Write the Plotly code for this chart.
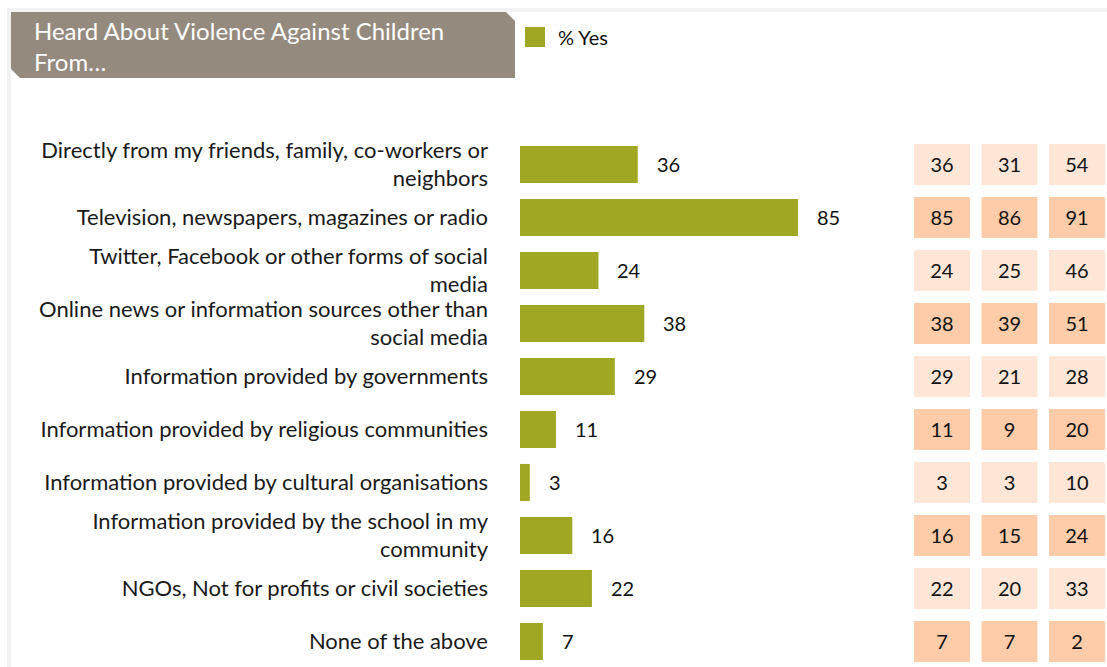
import plotly.graph_objects as go

categories = [
    "Directly from my friends, family, co-workers or<br>neighbors",
    "Television, newspapers, magazines or radio",
    "Twitter, Facebook or other forms of social<br>media",
    "Online news or information sources other than<br>social media",
    "Information provided by governments",
    "Information provided by religious communities",
    "Information provided by cultural organisations",
    "Information provided by the school in my<br>community",
    "NGOs, Not for profits or civil societies",
    "None of the above",
]
yes_pct = [36, 85, 24, 38, 29, 11, 3, 16, 22, 7]
table_col1 = [36, 85, 24, 38, 29, 11, 3, 16, 22, 7]
table_col2 = [31, 86, 25, 39, 21, 9, 3, 15, 20, 7]
table_col3 = [54, 91, 46, 51, 28, 20, 10, 24, 33, 2]
table_cols = [table_col1, table_col2, table_col3]
title_text = "Heard About Violence Against Children<br>From\u2026"
legend_text = "% Yes"

FONT = "Lato"
GREEN = "#A0A823"
LIGHT = "#FFE6D6"
DARK = "#FFCCA9"

W, H = 1107, 667
ML, MR, MT, MB = 520, 0, 110, 5
PW, PH = W - ML - MR, H - MT - MB

fig = go.Figure()
fig.add_trace(go.Bar(
    x=yes_pct, y=categories, orientation="h", marker_color=GREEN,
    marker_line_width=0, width=0.70, xaxis="x", yaxis="y",
    hoverinfo="skip", showlegend=False,
))

row_colors = [LIGHT if i % 2 == 0 else DARK for i in range(len(categories))]
for c, col in enumerate(table_cols):
    fig.add_trace(go.Bar(
        x=[0.83] * len(col), base=[c - 0.415] * len(col), y=categories,
        orientation="h", marker_color=row_colors, marker_line_width=0,
        width=0.77, xaxis="x2", yaxis="y",
        text=[str(v) for v in col], textposition="inside",
        insidetextanchor="middle", textangle=0,
        textfont=dict(family=FONT, size=20, color="#111111"),
        hoverinfo="skip", showlegend=False,
    ))

for cat, v in zip(categories, yes_pct):
    fig.add_annotation(
        x=v, y=cat, xref="x", yref="y", text=str(v), showarrow=False,
        xanchor="left", xshift=17, font=dict(family=FONT, size=20, color="#111111"),
    )

def px(x):
    return (x - ML) / PW
def py(y):
    return (H - MB - y) / PH

shapes = []
# outer frame bands
shapes.append(dict(type="rect", xref="paper", yref="paper", x0=px(7), x1=px(W), y0=py(12), y1=py(8),
                   fillcolor="#F2F2F2", line_width=0, layer="below"))
shapes.append(dict(type="rect", xref="paper", yref="paper", x0=px(7), x1=px(11), y0=py(H), y1=py(8),
                   fillcolor="#F2F2F2", line_width=0, layer="below"))
# title box with cut corners
x0, x1, y0, y1 = 11, 515, 12, 78
path = (f"M {px(x0)} {py(y0)} L {px(x1-9)} {py(y0)} L {px(x1)} {py(y0+9)} "
        f"L {px(x1)} {py(y1)} L {px(x0+9)} {py(y1)} L {px(x0)} {py(y1-9)} Z")
shapes.append(dict(type="path", xref="paper", yref="paper", path=path,
                   fillcolor="#958A7E", line_width=0, layer="below"))
# legend swatch
shapes.append(dict(type="rect", xref="paper", yref="paper", x0=px(525), x1=px(545), y0=py(47), y1=py(27),
                   fillcolor=GREEN, line_width=0))

fig.add_annotation(x=px(32), y=py(14), xref="paper", yref="paper", text=title_text,
                   showarrow=False, xanchor="left", yanchor="top", align="left",
                   font=dict(family=FONT, size=24, color="white"))
fig.add_annotation(x=px(556), y=py(37), xref="paper", yref="paper", text=legend_text,
                   showarrow=False, xanchor="left", yanchor="middle",
                   font=dict(family=FONT, size=20, color="#111111"))

fig.update_layout(
    width=W, height=H, autosize=False,
    margin=dict(l=ML, r=MR, t=MT, b=MB),
    paper_bgcolor="white", plot_bgcolor="white",
    barmode="overlay", shapes=shapes,
    xaxis=dict(domain=[0, 0.6], range=[0, 107.7], visible=False, fixedrange=True),
    xaxis2=dict(domain=[0.661, 1.0], range=[-0.504, 2.444], visible=False, fixedrange=True),
    yaxis=dict(type="category", range=[9.387, -1.028], showgrid=False, zeroline=False,
               showline=False, ticks="", ticklabelstandoff=31,
               tickfont=dict(family=FONT, size=22, color="#1a1a1a"), fixedrange=True),
)

fig.write_html("out.html", config={"displayModeBar": False},
               post_script="document.body.style.margin='0';document.body.style.padding='0';")
